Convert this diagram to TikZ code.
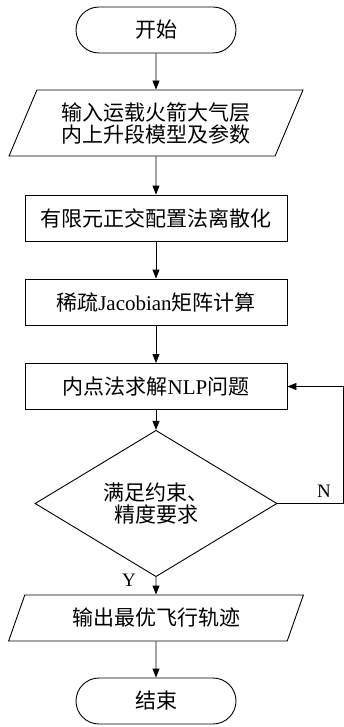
\documentclass[tikz,border=0pt]{standalone}
\usepackage{fontspec}
\setmainfont{Liberation Serif}
\newfontfamily\cjk{Noto Sans CJK SC}
\usetikzlibrary{shapes.geometric,shapes.misc,arrows.meta}
\begin{document}
\begin{tikzpicture}[x=1pt,y=-1pt,
  every node/.style={font=\fontsize{21pt}{22pt}\selectfont, inner sep=0pt, align=center},
  base/.style={draw, line width=0.9pt},
  term/.style={base, rounded rectangle, minimum width=160pt, minimum height=46pt},
  proc/.style={base, rectangle, minimum width=262pt, minimum height=46pt},
  io/.style={base, trapezium, trapezium left angle=62, trapezium right angle=118, trapezium stretches=true, minimum width=295pt},
  dec/.style={base, diamond, minimum width=242pt, minimum height=107pt},
  lbl/.style={font=\fontsize{19pt}{20pt}\selectfont},
  arr/.style={line width=0.9pt, -{Triangle[length=9pt,width=7pt]}}
]
\useasboundingbox (0,0) rectangle (344,727);
\node[term] (start) at (156,30) {\cjk 开始};
\node[io, minimum height=66pt] (input) at (156,123) {\cjk 输入运载火箭大气层\\\cjk 内上升段模型及参数};
\node[proc] (disc) at (156,218) {\cjk 有限元正交配置法离散化};
\node[proc] (jac) at (156,302) {\cjk 稀疏{\rmfamily Jacobian}矩阵计算};
\node[proc] (nlp) at (156,386.5) {\cjk 内点法求解{\rmfamily NLP}问题};
\node[dec] (check) at (156,503.5) {\cjk 满足约束、\\\cjk 精度要求};
\node[io, minimum height=46pt] (output) at (156,618) {\cjk 输出最优飞行轨迹};
\node[term] (stop) at (156,701) {\cjk 结束};
\coordinate (c1) at (343,503.5);
\coordinate (c2) at (343,386.5);
\draw[arr] (start) -- (input);
\draw[arr] (input) -- (disc);
\draw[arr] (disc) -- (jac);
\draw[arr] (jac) -- (nlp);
\draw[arr] (nlp) -- (check);
\draw[arr] (check) -- (output);
\draw[arr] (output) -- (stop);
\draw[arr] (check.east) -- (c1) -- (c2) -- (nlp.east);
\node[lbl] (nlab) at (324,491) {N};
\node[lbl] (ylab) at (129,580) {Y};
\end{tikzpicture}
\end{document}
